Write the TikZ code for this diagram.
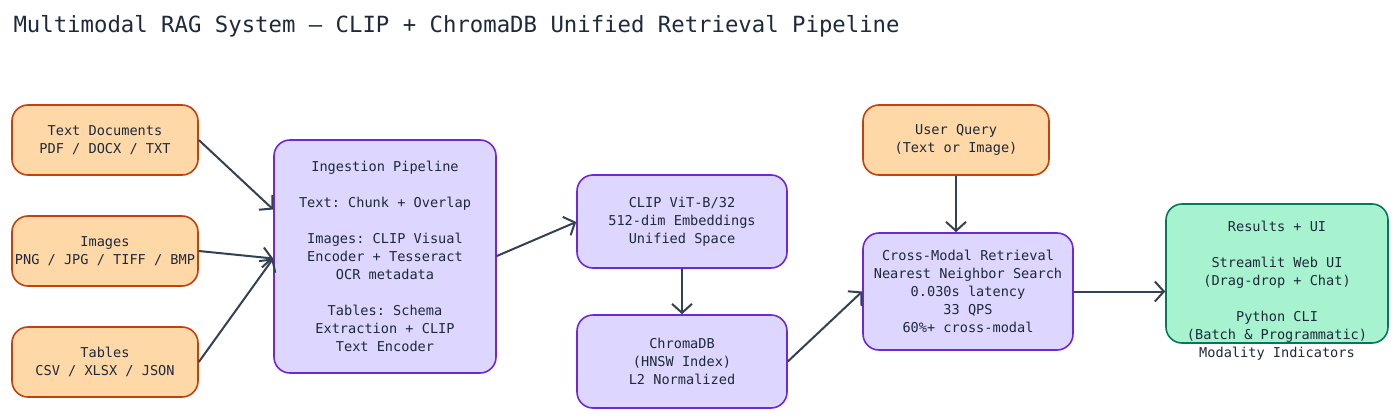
\documentclass[tikz,border=0pt]{standalone}
\usepackage{fontspec}
\setmonofont{DejaVu Sans Mono}
\usetikzlibrary{arrows.meta}
\definecolor{srcfill}{HTML}{FFD8A8}
\definecolor{srcdraw}{HTML}{C2410C}
\definecolor{procfill}{HTML}{DDD6FE}
\definecolor{procdraw}{HTML}{6D28D9}
\definecolor{outfill}{HTML}{A7F3D0}
\definecolor{outdraw}{HTML}{047857}
\definecolor{ink}{HTML}{1E293B}
\definecolor{wire}{HTML}{334155}
\tikzset{
  box/.style={rounded corners=16pt, line width=1.6pt, align=center, inner sep=0pt,
    text=ink, font=\ttfamily\fontsize{13.6}{18}\selectfont},
  src/.style={box, fill=srcfill, draw=srcdraw, minimum width=186pt, minimum height=70pt},
  proc/.style={box, fill=procfill, draw=procdraw},
  result/.style={box, fill=outfill, draw=outdraw},
  link/.style={draw=wire, line width=2pt, -{Straight Barb[length=9pt,width=20pt,line width=2pt]}}
}
\begin{document}
\begin{tikzpicture}[x=1pt, y=-1pt]
  \useasboundingbox (0,0) rectangle (1400,420);
  % Title
  \node[anchor=west, text=ink, font=\ttfamily\fontsize{22.3}{24}\selectfont] (title) at (10,26)
    {Multimodal RAG System — CLIP + ChromaDB Unified Retrieval Pipeline};

  % Sources
  \node[src] (txt) at (105,140) {Text Documents\\PDF / DOCX / TXT};
  \node[src] (img) at (105,251) {Images\\PNG / JPG / TIFF / BMP};
  \node[src] (tab) at (105,362) {Tables\\CSV / XLSX / JSON};

  % Processing
  \node[proc, minimum width=222pt, minimum height=233pt] (ingest) at (385,256.5)
    {Ingestion Pipeline\\[18pt]Text: Chunk + Overlap\\[18pt]Images: CLIP Visual\\Encoder + Tesseract\\OCR metadata\\[18pt]Tables: Schema\\Extraction + CLIP\\Text Encoder};
  \node[proc, minimum width=210pt, minimum height=93pt] (clip) at (682,221.5)
    {CLIP ViT-B/32\\512-dim Embeddings\\Unified Space};
  \node[proc, minimum width=210pt, minimum height=93pt] (chroma) at (682,361.5)
    {ChromaDB\\(HNSW Index)\\L2 Normalized};
  \node[src] (query) at (956,140) {User Query\\(Text or Image)};
  \node[proc, minimum width=210pt, minimum height=117pt] (retr) at (968,291.5)
    {Cross-Modal Retrieval\\Nearest Neighbor Search\\0.030s latency\\33 QPS\\60\%+ cross-modal};
  \node[result, minimum width=222pt, minimum height=139pt] (res) at (1277,273.5) {};
  \node[box, draw=none] (restext) at (1277,291)
    {Results + UI\\[18pt]Streamlit Web UI\\(Drag-drop + Chat)\\[18pt]Python CLI\\(Batch \& Programmatic)\\Modality Indicators};

  % Edges
  \draw[link] (txt.east) -- ([yshift=47pt]ingest.west);
  \draw[link] (img.east) -- ([yshift=-2pt]ingest.west);
  \draw[link] (tab.east) -- ([yshift=-2pt]ingest.west);
  \draw[link] ([yshift=0.5pt]ingest.east) -- ([yshift=-0.5pt]clip.west);
  \draw[link] (clip.south) -- (chroma.north);
  \draw[link] (chroma.east) -- (retr.west);
  \draw[link] (query.south) -- ([xshift=-12pt]retr.north);
  \draw[link] (retr.east) -- ([yshift=-18pt]res.west);
\end{tikzpicture}
\end{document}
